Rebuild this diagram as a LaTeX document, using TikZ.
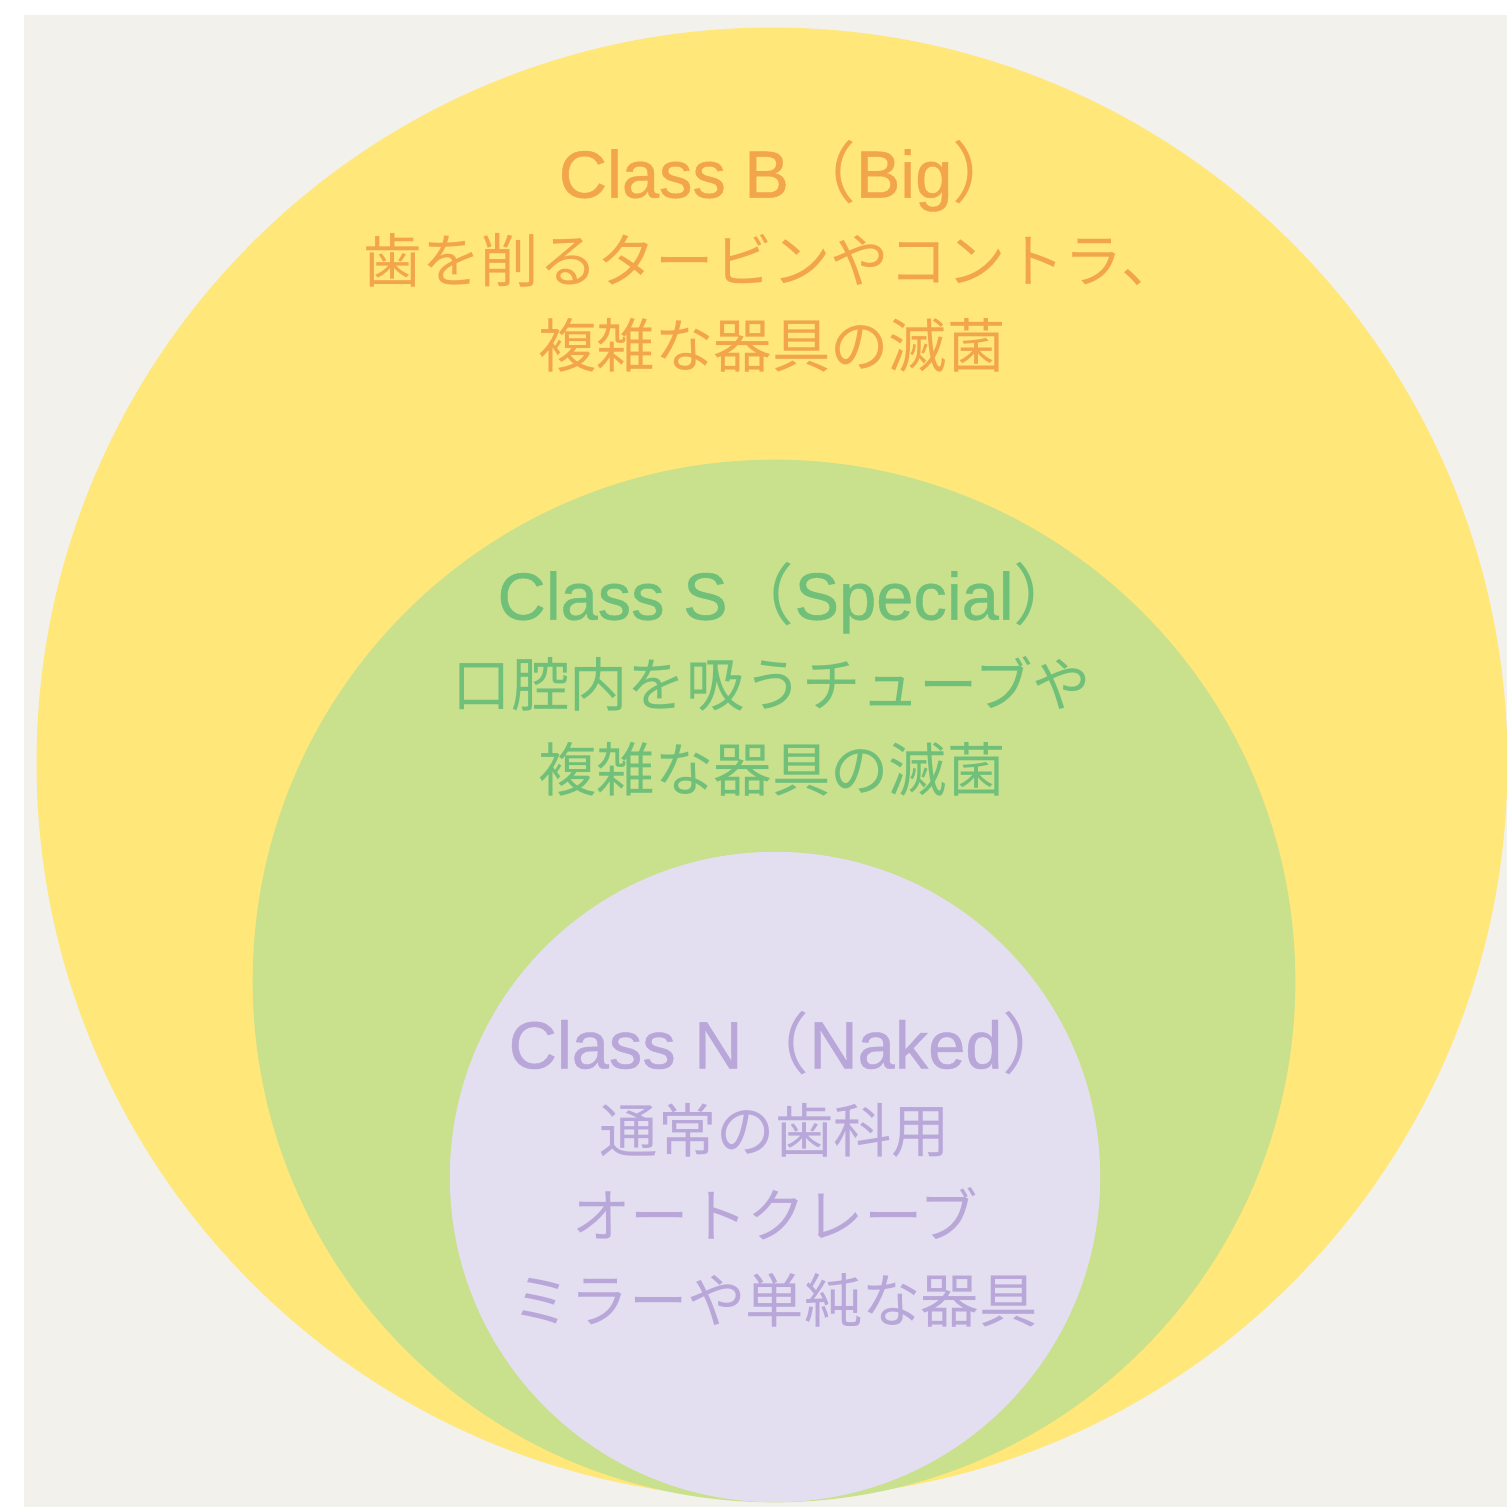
\documentclass[tikz,border=0pt]{standalone}
\usepackage{fontspec}
\setmainfont{Noto Sans CJK JP}
\newfontfamily\latinsans[FakeBold=0.6]{Liberation Sans}
\usetikzlibrary{positioning}
\definecolor{paper}{HTML}{F3F1EC}
\definecolor{bigfill}{HTML}{FFE77A}
\definecolor{specfill}{HTML}{C9E08C}
\definecolor{nakedfill}{HTML}{E3DFF1}
\definecolor{bigtext}{HTML}{F2A54A}
\definecolor{spectext}{HTML}{70C07A}
\definecolor{nakedtext}{HTML}{B8A7D8}
\newcommand{\classlabel}[2]{{\latinsans #1}（{\latinsans #2}）}

\begin{document}
\begin{tikzpicture}[
    x=0.01cm, y=-0.01cm,
    disc/.style={circle, inner sep=0pt},
    classname/.style={inner sep=0pt, font=\fontsize{19}{23}\selectfont},
    desc/.style={align=center, inner sep=0pt, font=\fontsize{16.6}{24.2}\selectfont},
  ]
  % Paper
  \useasboundingbox (0,0) rectangle (1507,1507);
  \fill[white] (0,0) rectangle (1507,1507);
  \fill[paper] (24,15) rectangle (1507,1507);

  % Nested classes
  \node[disc, fill=bigfill, minimum size=14.7cm] (big) at (772,763) {};
  \node[disc, fill=specfill, minimum size=10.42cm] (special) at (774,981) {};
  \node[disc, fill=nakedfill, minimum size=6.5cm] (naked) at (775,1177) {};

  % Class B
  \node[classname, bigtext] (bigname) at (789,176) {\classlabel{Class B}{Big}};
  \node[desc, bigtext] (bigdesc) at (772,303) {歯を削るタービンやコントラ、\\複雑な器具の滅菌};

  % Class S
  \node[classname, spectext] (specname) at (789,598) {\classlabel{Class S}{Special}};
  \node[desc, spectext] (specdesc) at (772,726) {口腔内を吸うチューブや\\複雑な器具の滅菌};

  % Class N
  \node[classname, nakedtext] (nakedname) at (789,1043) {\classlabel{Class N}{Naked}};
  \node[desc, nakedtext] (nakeddesc) at (775,1215) {通常の歯科用\\オートクレーブ\\ミラーや単純な器具};
\end{tikzpicture}
\end{document}
